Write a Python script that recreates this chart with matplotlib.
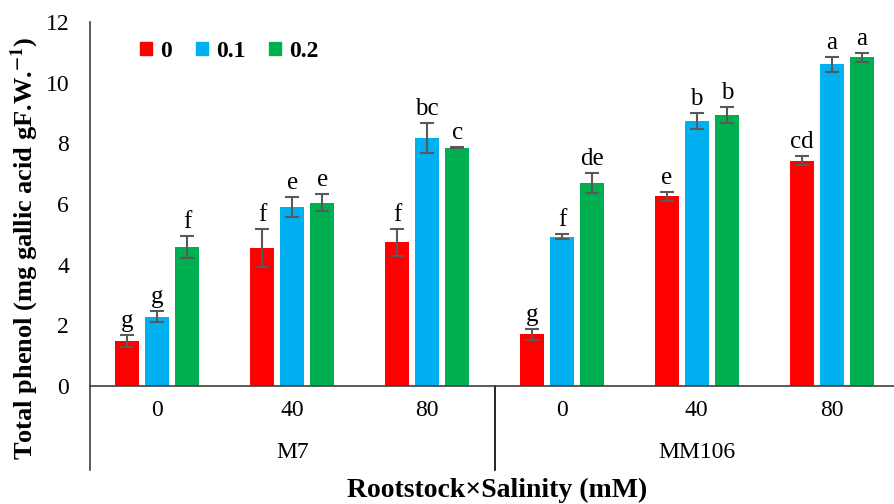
from matplotlib import pyplot as plt
from matplotlib.patches import Patch
from matplotlib.lines import Line2D
import numpy as np

# data
rootstocks = ['M7', 'MM106']
salinity = ['0', '40', '80']
levels = ['0', '0.1', '0.2']

means = {
    '0':   [1.47, 4.54, 4.74, 1.70, 6.25, 7.43],
    '0.1': [2.28, 5.89, 8.17, 4.92, 8.74, 10.60],
    '0.2': [4.58, 6.04, 7.86, 6.69, 8.94, 10.84],
}
errors = {
    '0':   [0.20, 0.63, 0.45, 0.19, 0.15, 0.15],
    '0.1': [0.18, 0.33, 0.50, 0.08, 0.27, 0.24],
    '0.2': [0.36, 0.28, 0.03, 0.34, 0.27, 0.15],
}
letters = {
    '0':   ['g', 'f', 'f', 'g', 'e', 'cd'],
    '0.1': ['g', 'e', 'bc', 'f', 'b', 'a'],
    '0.2': ['f', 'e', 'c', 'de', 'b', 'a'],
}
colors = {'0': '#FF0000', '0.1': '#00B0F0', '0.2': '#00B050'}

plt.rcParams['font.family'] = ['Liberation Serif', 'DejaVu Serif']
plt.rcParams['mathtext.fontset'] = 'stix'

W, H = 894, 504
fig = plt.figure(figsize=(W / 100, H / 100), dpi=100)
x0, x1, y0, y1 = 90, 899, 386, 22
ax = fig.add_axes([x0 / W, 1 - y0 / H, (x1 - x0) / W, (y0 - y1) / H])

x = np.arange(len(rootstocks) * len(salinity))
width = 0.178
step = 0.223

for i, lv in enumerate(levels):
    pos = x + (i - 1) * step
    ax.bar(pos, means[lv], width, color=colors[lv], zorder=2)
    ax.errorbar(pos, means[lv], yerr=errors[lv], fmt='none', ecolor='#595959',
                elinewidth=1.5, capsize=5, capthick=1.5, zorder=3)
    for p, m, e, t in zip(pos, means[lv], errors[lv], letters[lv]):
        ax.text(p, m + e + 0.1, t, ha='center', va='bottom', fontsize=18)

ax.set_xlim(-0.5, len(x) - 0.5)
ax.set_ylim(0, 12)
ax.set_yticks(range(0, 13, 2))
ax.tick_params(axis='y', length=0, pad=15, labelsize=17)
ax.set_xticks([])
for s in ['top', 'right', 'left']:
    ax.spines[s].set_visible(False)
ax.spines['bottom'].set_color('#404040')
ax.spines['bottom'].set_linewidth(1.2)

# category axis below the plot
low = -(470 - 386) / (386 - 22)
tr = ax.get_xaxis_transform()
ax.add_line(Line2D([-0.5, -0.5], [1, low], transform=tr, color='#404040',
                   lw=1.2, clip_on=False))
ax.add_line(Line2D([2.5, 2.5], [0, low], transform=tr, color='black',
                   lw=1.2, clip_on=False))
for k, xx in enumerate(x):
    ax.text(xx, -(410 - 386) / 364, salinity[k % 3], transform=tr,
            ha='center', va='center', fontsize=17)
for j, r in enumerate(rootstocks):
    ax.text(1 + 3 * j, -(453 - 386) / 364, r, transform=tr,
            ha='center', va='center', fontsize=17)

fig.text(497 / W, 1 - 490 / H, 'Rootstock×Salinity (mM)', ha='center',
         va='center', fontsize=20, fontweight='bold')
fig.text(25 / W, 1 - 248 / H, r'Total phenol (mg gallic acid gF.W.$^{\mathbf{-1}}$)',
         ha='center', va='center', rotation=90, fontsize=19, fontweight='bold')

handles = [Patch(color=colors[lv], label=lv) for lv in levels]
ax.legend(handles=handles, loc='upper left', bbox_to_anchor=(0.036, 1.006),
          ncol=3, frameon=False, handlelength=0.5, handleheight=0.5,
          handletextpad=0.35, columnspacing=1.0,
          prop={'weight': 'bold', 'size': 17})

fig.savefig('out.png', dpi=100)
